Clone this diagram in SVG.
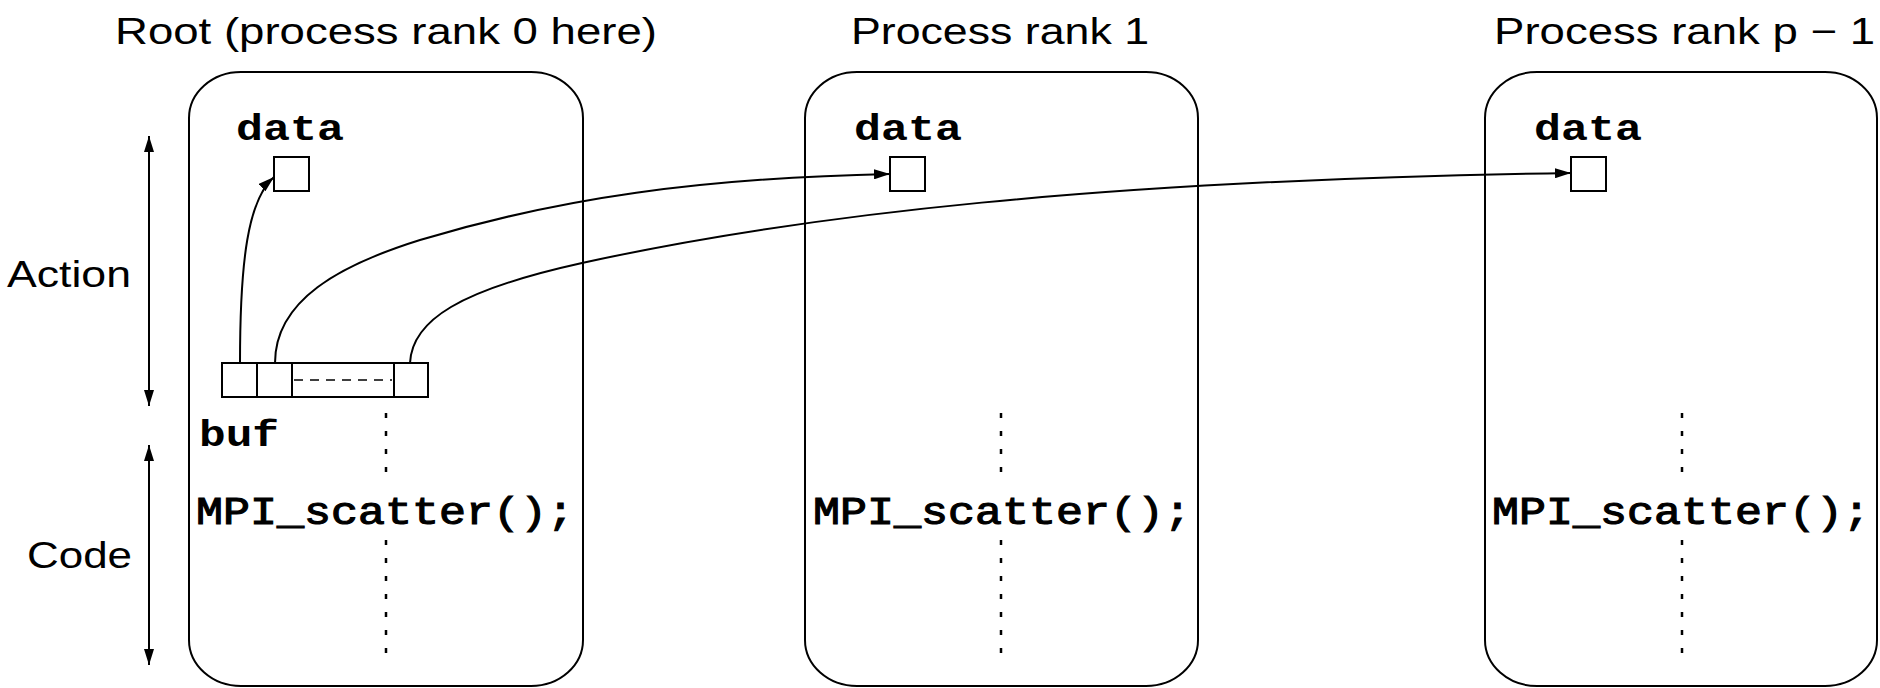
<svg xmlns="http://www.w3.org/2000/svg" width="1880" height="688" viewBox="0 0 1880 688">
<style>
.title{font-family:"Liberation Sans",Arial,sans-serif;font-size:37px;fill:#000}
.side{font-family:"Liberation Sans",Arial,sans-serif;font-size:37px;fill:#000}
.mono{font-family:"Liberation Mono","Courier New",monospace;font-size:37px;font-weight:bold;fill:#000}
.code{font-family:"Liberation Mono","Courier New",monospace;font-size:38px;font-weight:normal;fill:#000;stroke:#000;stroke-width:1.1}
.proc{fill:none;stroke:#000;stroke-width:2}
.cell{fill:#fff;stroke:#000;stroke-width:2}
.conn{fill:none;stroke:#000;stroke-width:2}
.dots{fill:none;stroke:#000;stroke-width:2.5;stroke-dasharray:5 13}
.dash{fill:none;stroke:#000;stroke-width:1.5;stroke-dasharray:9 7}
</style>
<defs>
<marker id="ah" markerUnits="userSpaceOnUse" markerWidth="16" markerHeight="10" refX="16" refY="5" orient="auto">
<path d="M0,0 L16,5 L0,10 z" fill="#000"/>
</marker>
<marker id="ahs" markerUnits="userSpaceOnUse" markerWidth="16" markerHeight="10" refX="0" refY="5" orient="auto">
<path d="M16,0 L0,5 L16,10 z" fill="#000"/>
</marker>
</defs>

<g id="axis-action">
<line class="conn" x1="149" y1="136" x2="149" y2="406" marker-start="url(#ahs)" marker-end="url(#ah)"/>
<text class="side" x="7" y="287" textLength="124" lengthAdjust="spacingAndGlyphs">Action</text>
</g>
<g id="axis-code">
<line class="conn" x1="149" y1="445" x2="149" y2="665" marker-start="url(#ahs)" marker-end="url(#ah)"/>
<text class="side" x="27" y="568" textLength="105" lengthAdjust="spacingAndGlyphs">Code</text>
</g>

<g id="root">
<text class="title" x="115" y="44" textLength="542" lengthAdjust="spacingAndGlyphs">Root (process rank 0 here)</text>
<rect class="proc" x="189" y="72" width="394" height="614" rx="52" ry="46"/>
<text class="mono" x="236" y="140" textLength="108" lengthAdjust="spacingAndGlyphs">data</text>
<rect class="cell" x="274" y="157" width="35" height="34"/>
<g id="buf">
<rect class="cell" x="222" y="363" width="206" height="34"/>
<line class="conn" x1="257" y1="363" x2="257" y2="397"/>
<line class="conn" x1="292" y1="363" x2="292" y2="397"/>
<line class="conn" x1="394" y1="363" x2="394" y2="397"/>
<line class="dash" x1="294" y1="380" x2="392" y2="380"/>
</g>
<text class="mono" x="199" y="446" textLength="80" lengthAdjust="spacingAndGlyphs">buf</text>
<line class="dots" x1="386" y1="413" x2="386" y2="482"/>
<line class="dots" x1="386" y1="540" x2="386" y2="662"/>
<text class="code" x="196" y="524" textLength="378" lengthAdjust="spacingAndGlyphs">MPI_scatter();</text>
</g>

<g id="rank1">
<text class="title" x="851" y="44" textLength="298" lengthAdjust="spacingAndGlyphs">Process rank 1</text>
<rect class="proc" x="805" y="72" width="393" height="614" rx="52" ry="46"/>
<text class="mono" x="854" y="140" textLength="108" lengthAdjust="spacingAndGlyphs">data</text>
<rect class="cell" x="890" y="157" width="35" height="34"/>
<line class="dots" x1="1001" y1="413" x2="1001" y2="482"/>
<line class="dots" x1="1001" y1="540" x2="1001" y2="662"/>
<text class="code" x="813" y="524" textLength="378" lengthAdjust="spacingAndGlyphs">MPI_scatter();</text>
</g>

<g id="rankp">
<text class="title" x="1494" y="44" textLength="381" lengthAdjust="spacingAndGlyphs">Process rank p − 1</text>
<rect class="proc" x="1485" y="72" width="392" height="614" rx="52" ry="46"/>
<text class="mono" x="1534" y="140" textLength="108" lengthAdjust="spacingAndGlyphs">data</text>
<rect class="cell" x="1571" y="157" width="35" height="34"/>
<line class="dots" x1="1682" y1="413" x2="1682" y2="482"/>
<line class="dots" x1="1682" y1="540" x2="1682" y2="662"/>
<text class="code" x="1492" y="524" textLength="378" lengthAdjust="spacingAndGlyphs">MPI_scatter();</text>
</g>

<g id="connectors">
<path class="conn" d="M240,363 C240,260 248,200 274,177" marker-end="url(#ah)"/>
<path class="conn" d="M275,363 C275,300 340,265 420,240 C560,198 700,178 890,174" marker-end="url(#ah)"/>
<path class="conn" d="M410,363 C412,320 460,290 582,263 C800,215 1100,180 1571,173" marker-end="url(#ah)"/>
</g>
</svg>
